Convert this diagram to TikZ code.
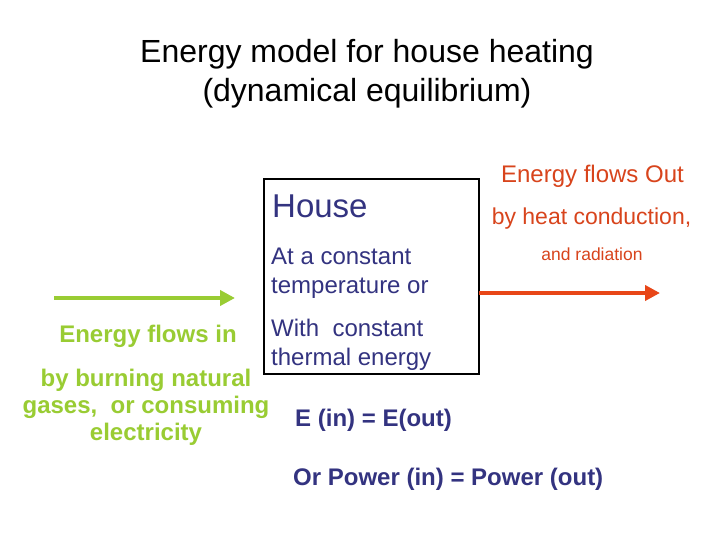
\documentclass[tikz,border=0pt]{standalone}
\usepackage{fontspec}
\setmainfont{Liberation Sans}
\usetikzlibrary{arrows.meta}
\definecolor{navy}{HTML}{333380}
\definecolor{leaf}{HTML}{99CC33}
\definecolor{flame}{HTML}{E84618}
\definecolor{rust}{HTML}{D8441C}
\tikzset{
  txt/.style={inner sep=0pt, anchor=base},
  lefttxt/.style={inner sep=0pt, anchor=base west},
  title/.style={txt, font=\fontsize{32}{38}\selectfont, text=black},
  housetxt/.style={lefttxt, font=\fontsize{24}{29}\selectfont, text=navy},
  greentxt/.style={txt, font=\fontsize{24}{28}\selectfont\bfseries, text=leaf},
  redtxt/.style={txt, text=rust},
  eqtxt/.style={lefttxt, font=\fontsize{24}{28}\selectfont\bfseries, text=navy},
  flow/.style={line width=4.5pt, -{Triangle[length=15pt,width=15pt]}}
}
\begin{document}
\begin{tikzpicture}[x=1pt,y=-1pt]
\useasboundingbox[fill=white] (0,0) rectangle (720,540);
% title
\node[title] (t1) at (367,63) {Energy model for house heating};
\node[title] (t2) at (367,102) {(dynamical equilibrium)};
% house box
\node[draw=black, line width=1.2pt, minimum width=215pt, minimum height=195pt, inner sep=0pt] (box) at (371.5,276.5) {};
\node[lefttxt, font=\fontsize{33}{38}\selectfont, text=navy] (house) at (272,218) {House};
\node[housetxt] (h1) at (271,264) {At a constant};
\node[housetxt] (h2) at (271,293) {temperature or};
\node[housetxt] (h3) at (271,336) {With~~constant};
\node[housetxt] (h4) at (271,365) {thermal energy};
% energy in
\coordinate (ginA) at (54,298);
\coordinate (ginB) at (235,298);
\draw[flow, leaf, line width=4pt] (ginA) -- (ginB);
\node[greentxt] (gin) at (148,342) {Energy flows in};
\node[greentxt] (g1) at (146,386) {by burning natural};
\node[greentxt] (g2) at (146,413) {gases,~~or consuming};
\node[greentxt] (g3) at (146,440) {electricity};
% energy out
\coordinate (routA) at (479,293);
\coordinate (routB) at (660,293);
\draw[flow, flame] (routA) -- (routB);
\node[redtxt, font=\fontsize{24}{28}\selectfont] (rout) at (592.5,183) {Energy flows Out};
\node[redtxt, font=\fontsize{23}{27}\selectfont] (r1) at (591.5,225) {by heat conduction,};
\node[redtxt, font=\fontsize{17.5}{20}\selectfont] (r2) at (592,260) {and radiation};
% equations
\node[eqtxt] (eq1) at (295,426) {E (in) = E(out)};
\node[eqtxt] (eq2) at (293,485) {Or Power (in) = Power (out)};
\end{tikzpicture}
\end{document}
